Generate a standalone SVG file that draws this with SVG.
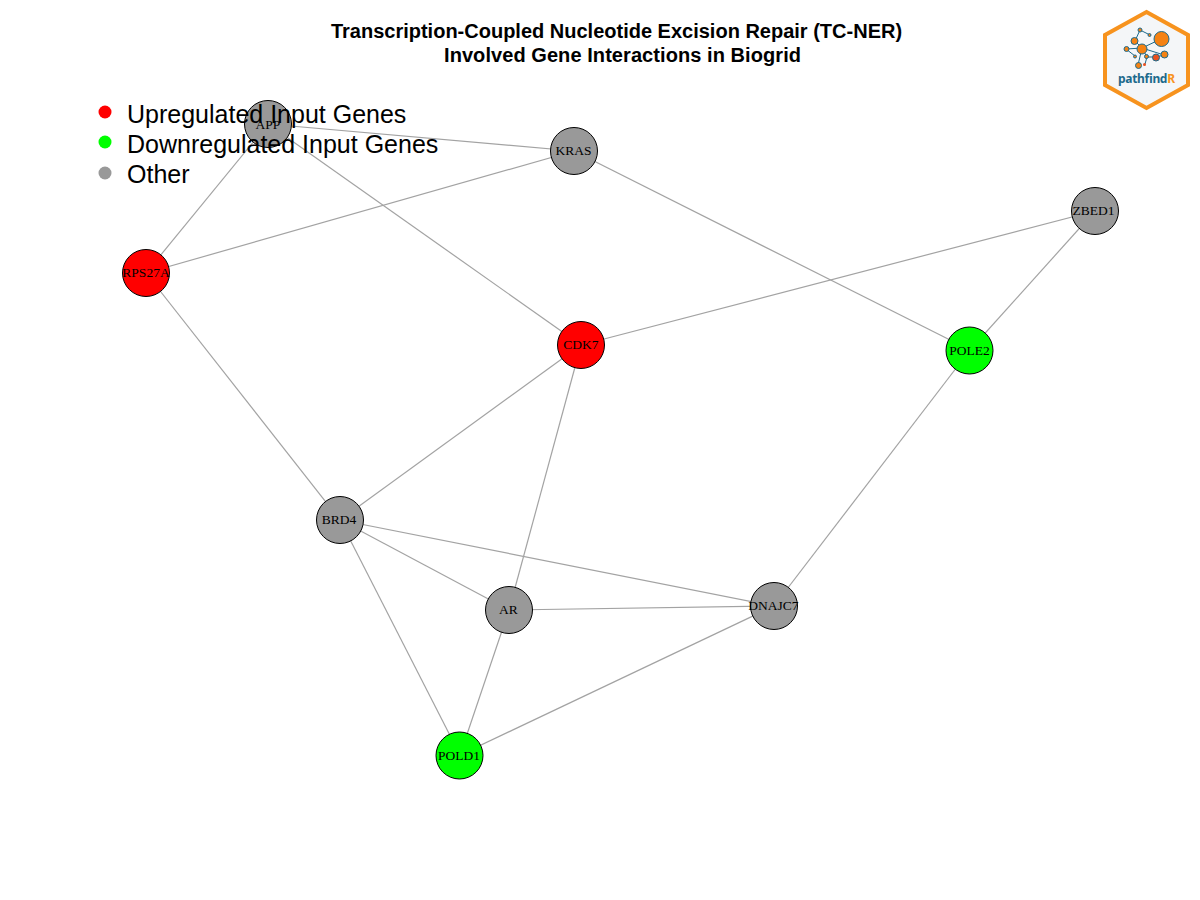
<svg xmlns="http://www.w3.org/2000/svg" width="1200" height="900" viewBox="0 0 1200 900">
<style>
.e{stroke:#a3a3a3;stroke-width:1.2;fill:none}
.n{stroke:#000;stroke-width:1}
.g{fill:#999}.r{fill:#f00}.l{fill:#0f0}
.t{font:13.5px "Liberation Serif",serif;text-anchor:middle;fill:#000}
.h{font:bold 20px "Liberation Sans",Arial,sans-serif;text-anchor:middle;fill:#000}
.k{font:25px "Liberation Sans",Arial,sans-serif;fill:#000}
.lk{stroke:#1c6a8c;stroke-width:1;fill:none}
.o{fill:#f58213;stroke:#1c6a8c;stroke-width:1}
</style>
<rect width="1200" height="900" fill="#fff"/>
<g id="connectors">
<line class="e" x1="268" y1="124" x2="574" y2="151"/>
<line class="e" x1="268" y1="124" x2="146" y2="273"/>
<line class="e" x1="268" y1="124" x2="581" y2="345"/>
<line class="e" x1="574" y1="151" x2="146" y2="273"/>
<line class="e" x1="574" y1="151" x2="970" y2="350"/>
<line class="e" x1="1095" y1="211" x2="581" y2="345"/>
<line class="e" x1="1095" y1="211" x2="970" y2="350"/>
<line class="e" x1="146" y1="273" x2="340" y2="520"/>
<line class="e" x1="581" y1="345" x2="340" y2="520"/>
<line class="e" x1="581" y1="345" x2="509" y2="610"/>
<line class="e" x1="970" y1="350" x2="774" y2="606"/>
<line class="e" x1="340" y1="520" x2="509" y2="610"/>
<line class="e" x1="340" y1="520" x2="774" y2="606"/>
<line class="e" x1="340" y1="520" x2="460" y2="755"/>
<line class="e" x1="509" y1="610" x2="774" y2="606"/>
<line class="e" x1="509" y1="610" x2="460" y2="755"/>
<line class="e" x1="774" y1="606" x2="460" y2="755"/>
</g>
<g id="node-APP"><circle class="n g" cx="268" cy="124" r="23.5"/><text class="t" x="268" y="129">APP</text></g>
<g id="node-KRAS"><circle class="n g" cx="574" cy="151" r="23.5"/><text class="t" x="573.500" y="155">KRAS</text></g>
<g id="node-ZBED1"><circle class="n g" cx="1095" cy="211" r="23.5"/><text class="t" x="1093.500" y="215">ZBED1</text></g>
<g id="node-RPS27A"><circle class="n r" cx="146" cy="273" r="23.5"/><text class="t" x="146" y="277">RPS27A</text></g>
<g id="node-CDK7"><circle class="n r" cx="581" cy="345" r="23.5"/><text class="t" x="581" y="349">CDK7</text></g>
<g id="node-POLE2"><circle class="n l" cx="969.500" cy="350.500" r="23.5"/><text class="t" x="969.500" y="354.500">POLE2</text></g>
<g id="node-BRD4"><circle class="n g" cx="340" cy="520" r="23.5"/><text class="t" x="339" y="524">BRD4</text></g>
<g id="node-AR"><circle class="n g" cx="509" cy="610" r="23.5"/><text class="t" x="508.500" y="614">AR</text></g>
<g id="node-DNAJC7"><circle class="n g" cx="774" cy="606" r="23.5"/><text class="t" x="773.500" y="610">DNAJC7</text></g>
<g id="node-POLD1"><circle class="n l" cx="459.500" cy="755.500" r="23.5"/><text class="t" x="459" y="759.500">POLD1</text></g>
<g id="title"><text class="h" x="616.500" y="38">Transcription-Coupled Nucleotide Excision Repair (TC-NER)</text><text class="h" x="622.500" y="62" textLength="357">Involved Gene Interactions in Biogrid</text></g>
<g id="legend">
<circle class="r" cx="105" cy="112" r="6.5"/><text class="k" x="127" y="123">Upregulated Input Genes</text>
<circle class="l" cx="105" cy="142" r="6.5"/><text class="k" x="127" y="153">Downregulated Input Genes</text>
<circle class="g" cx="105" cy="173" r="6.5"/><text class="k" x="127" y="183">Other</text>
</g>
<g id="logo">
<polygon points="1146.500,12 1188,35 1188,85 1146.500,108 1105,85 1105,35" fill="#f4f6f8" stroke="#f7931e" stroke-width="4"/>
<path class="lk" d="M1142 48L1161 39M1142 48L1135 41M1135 41L1140 30L1150 35M1142 48L1126 49M1142 48L1138 65M1142 48L1147 57L1156 57L1164 55M1142 48L1164 55M1126 49L1135 56M1147 57L1145 64"/>
<circle class="o" cx="1161.500" cy="39" r="7.500"/><circle class="o" cx="1142" cy="49" r="5"/><circle class="o" cx="1134.500" cy="41" r="3.500"/><circle class="o" cx="1140" cy="30" r="2"/><circle class="o" cx="1149.500" cy="35" r="1.500"/><circle class="o" cx="1126.500" cy="49" r="2.500"/><circle class="o" cx="1135" cy="56.500" r="1.500"/><circle class="o" cx="1138.500" cy="65.500" r="3"/><circle class="o" cx="1146.500" cy="56.500" r="2"/><circle class="o" cx="1156" cy="57.500" r="3.500" style="fill:#e8501f"/><circle class="o" cx="1164.500" cy="54.500" r="3.500"/><circle cx="1144.500" cy="64.500" r="1.500" fill="#e8501f"/>
<text x="1146.500" y="83" textLength="57" style="font:bold 12px 'Noto Sans','Liberation Sans',sans-serif;text-anchor:middle;fill:#1c6a8c">pathfind<tspan fill="#f7931e">R</tspan></text>
</g>
</svg>
